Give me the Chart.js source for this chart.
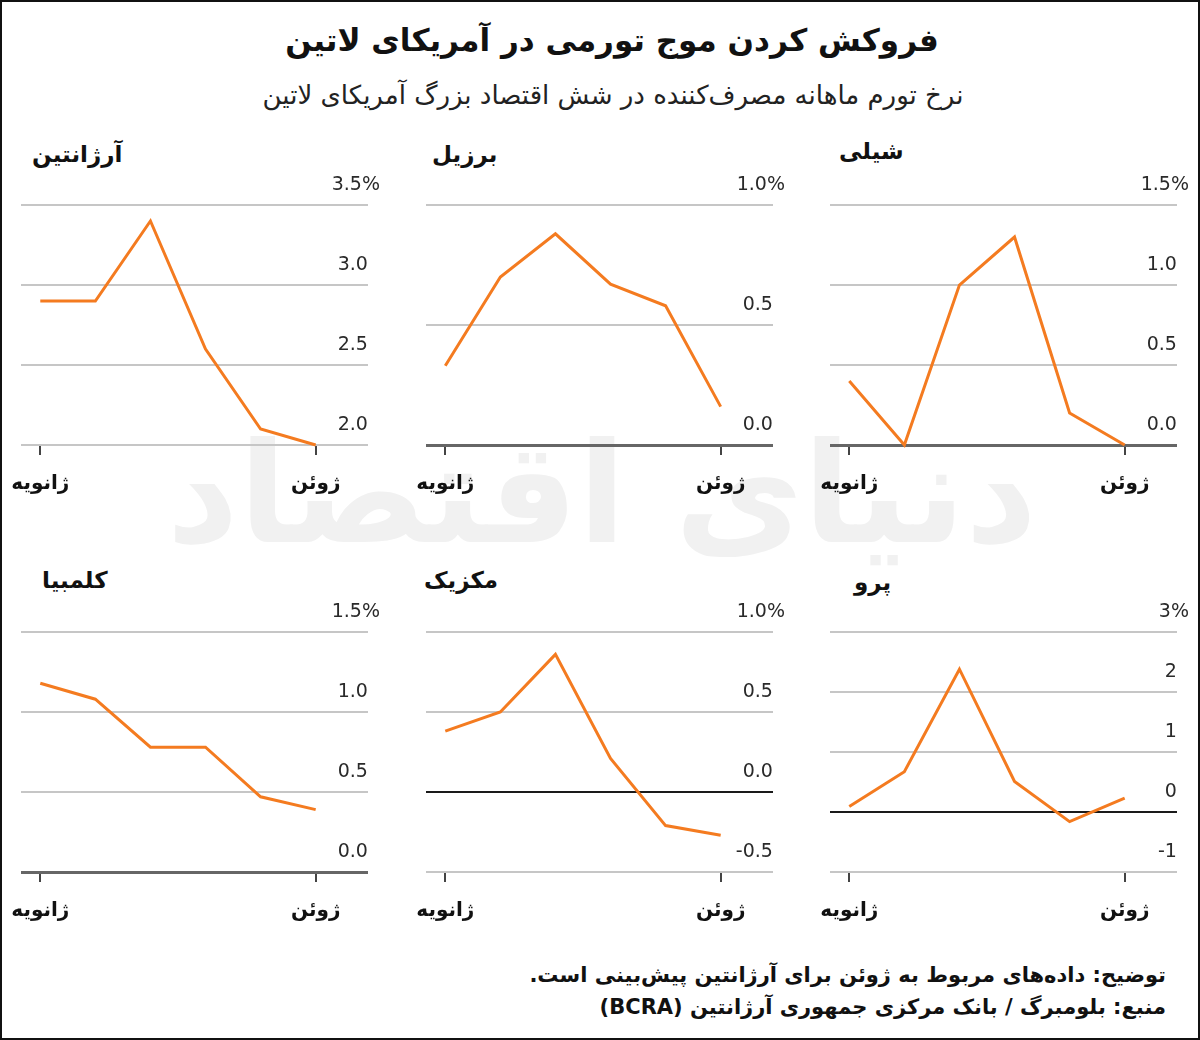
<!DOCTYPE html>
<html lang="fa">
<head>
<meta charset="utf-8">
<script src="https://cdn.jsdelivr.net/npm/chart.js@4.4.1/dist/chart.umd.min.js"></script>
<style>
  body { margin: 0; background: #fff; }
  #page {
    position: relative; width: 1200px; height: 1040px; box-sizing: border-box;
    border: 2px solid #111; overflow: hidden; background: #fff;
    font-family: 'DejaVu Sans', sans-serif; color: #111;
  }
  .txt { position: absolute; white-space: nowrap; direction: rtl; }
  #title { top: 20px; left: 0; width: 1220px; text-align: center; font-size: 31px; font-weight: bold; }
  #subtitle { top: 78px; left: 0; width: 1222px; text-align: center; font-size: 26px; color: #222; }
  .ptitle { font-size: 23px; font-weight: bold; }
  #note { top: 957px; right: 32px; font-size: 21px; font-weight: bold; text-align: right; line-height: 32px; }
  #watermark { top: 410px; left: 0; width: 1200px; text-align: center; font-size: 140px; font-weight: bold; color: #f1f1f1; }
  canvas { position: absolute; }
</style>
</head>
<body>
<div id="page">
  <div class="txt" id="watermark">دنیای اقتصاد</div>
  <div class="txt" id="title">فروکش کردن موج تورمی در آمریکای لاتین</div>
  <div class="txt" id="subtitle">نرخ تورم ماهانه مصرف‌کننده در شش اقتصاد بزرگ آمریکای لاتین</div>

  <div class="txt ptitle" style="left:30px; top:139px;">آرژانتین</div>
  <div class="txt ptitle" style="left:430px; top:139px;">برزیل</div>
  <div class="txt ptitle" style="left:837px; top:136px;">شیلی</div>
  <div class="txt ptitle" style="left:40px; top:565px;">کلمبیا</div>
  <div class="txt ptitle" style="left:422px; top:565px;">مکزیک</div>
  <div class="txt ptitle" style="left:852px; top:567px;">پرو</div>

  <canvas id="c-arg" width="401" height="341" style="left:-11px; top:173px;"></canvas>
  <canvas id="c-bra" width="401" height="341" style="left:394px; top:173px;"></canvas>
  <canvas id="c-chl" width="401" height="341" style="left:798px; top:173px;"></canvas>
  <canvas id="c-col" width="401" height="341" style="left:-11px; top:600px;"></canvas>
  <canvas id="c-mex" width="401" height="341" style="left:394px; top:600px;"></canvas>
  <canvas id="c-per" width="401" height="341" style="left:798px; top:600px;"></canvas>

  <div class="txt" id="note">توضیح: داده‌های مربوط به ژوئن برای آرژانتین پیش‌بینی است.<br>منبع: بلومبرگ / بانک مرکزی جمهوری آرژانتین (BCRA)</div>
</div>

<script>
// months, jan..jun (only first and last are labelled)
const months = ['ژانویه', 'فوریه', 'مارس', 'آوریل', 'مه', 'ژوئن'];

// monthly CPI, %
const argentina = [2.9, 2.9, 3.4, 2.6, 2.1, 2.0];
const brazil = [0.33, 0.70, 0.88, 0.67, 0.58, 0.16];
const chile = [0.4, 0.0, 1.0, 1.3, 0.2, 0.0];
const colombia = [1.18, 1.08, 0.78, 0.78, 0.47, 0.39];
const mexico = [0.38, 0.50, 0.86, 0.21, -0.21, -0.27];
const peru = [0.09, 0.67, 2.38, 0.51, -0.16, 0.23];

// y ticks and their labels
const argentinaTicks = [2.0, 2.5, 3.0, 3.5];
const argentinaLabels = ['2.0', '2.5', '3.0', '3.5%'];
const brazilTicks = [0, 0.5, 1.0];
const brazilLabels = ['0.0', '0.5', '1.0%'];
const chileTicks = [0, 0.5, 1.0, 1.5];
const chileLabels = ['0.0', '0.5', '1.0', '1.5%'];
const colombiaTicks = [0, 0.5, 1.0, 1.5];
const colombiaLabels = ['0.0', '0.5', '1.0', '1.5%'];
const mexicoTicks = [-0.5, 0, 0.5, 1.0];
const mexicoLabels = ['-0.5', '0.0', '0.5', '1.0%'];
const peruTicks = [-1, 0, 1, 2, 3];
const peruLabels = ['-1', '0', '1', '2', '3%'];

const panels = [
  { id: 'c-arg', data: argentina, ticks: argentinaTicks, labels: argentinaLabels },
  { id: 'c-bra', data: brazil, ticks: brazilTicks, labels: brazilLabels },
  { id: 'c-chl', data: chile, ticks: chileTicks, labels: chileLabels },
  { id: 'c-col', data: colombia, ticks: colombiaTicks, labels: colombiaLabels },
  { id: 'c-mex', data: mexico, ticks: mexicoTicks, labels: mexicoLabels },
  { id: 'c-per', data: peru, ticks: peruTicks, labels: peruLabels }
];

const ORANGE = '#f47b20';

const gridColor = (p) => (ctx) => {
  const v = ctx.tick && ctx.tick.value;
  if (v === 0) return v === p.ticks[0] ? '#666' : '#1a1a1a';
  return '#c6c6c6';
};
const gridWidth = (p) => (ctx) => {
  const v = ctx.tick && ctx.tick.value;
  if (v === 0 && v === p.ticks[0]) return 3;
  return 2;
};

const makeChart = (p) => new Chart(document.getElementById(p.id), {
  type: 'line',
  data: {
    datasets: [{
      data: p.data.map((v, i) => ({ x: i, y: v })),
      borderColor: ORANGE,
      borderWidth: 3,
      pointRadius: 0,
      tension: 0,
      clip: 4
    }]
  },
  options: {
    responsive: false,
    animation: false,
    events: [],
    layout: { padding: { left: 30, right: 0, top: 30, bottom: 3 } },
    plugins: { legend: { display: false }, tooltip: { enabled: false } },
    scales: {
      x: {
        type: 'linear',
        min: -0.35,
        max: 5.95,
        afterBuildTicks: (s) => { s.ticks = [{ value: 0 }, { value: months.length - 1 }]; },
        ticks: {
          callback: (v) => months[v],
          font: { family: 'DejaVu Sans', size: 20, weight: 'bold', lineHeight: 1.5 },
          color: '#111',
          padding: 14,
          maxRotation: 0,
          autoSkip: false
        },
        grid: { drawOnChartArea: false, drawTicks: true, tickLength: 10, color: '#444', lineWidth: 2 },
        border: { display: false }
      },
      y: {
        position: 'right',
        min: p.ticks[0],
        max: p.ticks[p.ticks.length - 1],
        afterBuildTicks: (s) => { s.ticks = p.ticks.map(v => ({ value: v })); },
        ticks: {
          mirror: true,
          padding: 12,
          labelOffset: -20,
          callback: (v, i) => i === p.labels.length - 1 ? p.labels[i] : p.labels[i] + '\u2007',
          font: { family: 'DejaVu Sans', size: 19 },
          color: '#2a2a2a'
        },
        grid: { drawTicks: false, color: gridColor(p), lineWidth: gridWidth(p) },
        border: { display: false }
      }
    }
  }
});

panels.forEach(makeChart);
</script>
</body>
</html>
